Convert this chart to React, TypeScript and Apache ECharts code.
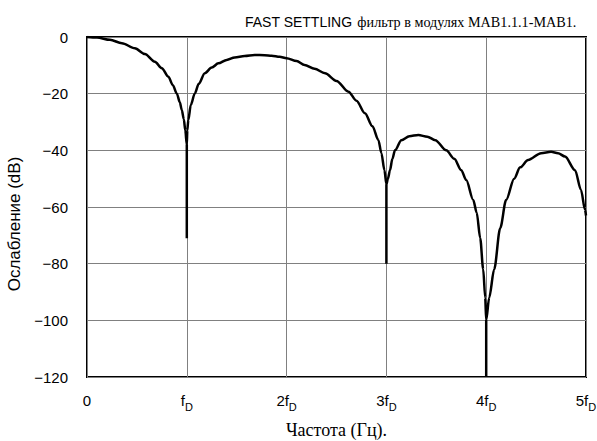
import React, { useEffect, useRef } from "react";
import * as echarts from "echarts";

const titleSans = "FAST SETTLING";
const titleSerif = "фильтр в модулях MAB1.1.1-MAB1.";
const yAxisName = "Ослабление (dB)";
const xAxisName = "Частота (Гц).";
const xTickLabels = ["0", "f", "2f", "3f", "4f", "5f"];
const xSubscript = "D";

const freq = [
  0, 0.1, 0.23, 0.35, 0.48, 0.58, 0.68, 0.75, 0.815, 0.86, 0.9, 0.93, 0.95, 0.97, 0.985, 1.0,
  1.0, 1.0, 1.005, 1.015, 1.04, 1.08, 1.12, 1.18, 1.25, 1.316, 1.4, 1.48, 1.58, 1.68, 1.78,
  1.85, 1.93, 2.0, 2.1, 2.18, 2.28, 2.385, 2.5, 2.62, 2.7, 2.785, 2.86, 2.92, 2.95, 2.98, 3.0,
  3.0, 3.0, 3.015, 3.036, 3.06, 3.086, 3.15, 3.23, 3.32, 3.41, 3.49, 3.6, 3.68, 3.75, 3.8,
  3.87, 3.905, 3.94, 3.97, 3.99, 4.0, 4.0, 4.0, 4.03, 4.08, 4.14, 4.2, 4.28, 4.34, 4.42, 4.55,
  4.65, 4.72, 4.79, 4.89, 4.95, 4.99, 5.0,
];
const atten = [
  0, -0.2, -1.0, -2.2, -4, -6, -8.7, -11, -14, -17, -20, -23, -25.8, -29, -33, -38,
  -71, -38, -33, -29.3, -24, -19.9, -16.5, -12.8, -10.8, -9.3, -8.1, -7.2, -6.7, -6.35, -6.4,
  -6.6, -7.0, -7.5, -8.5, -9.9, -11.2, -12.8, -15.5, -19.3, -22.5, -26.9, -31.5, -36.4, -41, -47, -52,
  -80, -52, -50, -47, -43, -40, -36.4, -35, -34.6, -35.2, -36.4, -40, -43, -47, -50.5,
  -57.5, -62, -71, -82, -92, -100, -120, -100, -92, -82, -67.5, -57.5, -50, -46, -43.4, -41,
  -40.5, -41, -42.2, -47, -54, -61, -63,
];

const yTicks = { min: -120, max: 0, interval: 20 };

export default function App() {
  const ref = useRef<HTMLDivElement>(null);
  useEffect(() => {
    if (!ref.current) return;
    const chart = echarts.init(ref.current, undefined, { renderer: "svg" });
    const data = freq.map((f, i) => [f, atten[i]]);
    chart.setOption({
      animation: false,
      backgroundColor: "#fff",
      title: {
        text: `{a|${titleSans}} {b|${titleSerif}}`,
        left: 240,
        top: 8,
        textStyle: {
          fontWeight: "normal",
          rich: {
            a: { fontFamily: "Liberation Sans", fontSize: 14, fontWeight: "normal", color: "#000" },
            b: { fontFamily: "Liberation Serif", fontSize: 14.2, fontWeight: "normal", color: "#000" },
          },
        },
      },
      grid: {
        left: 87,
        right: 11,
        top: 37,
        bottom: 64,
        show: true,
        borderColor: "#000",
        borderWidth: 2,
        backgroundColor: "transparent",
        outerBoundsMode: "none",
        containLabel: false,
      },
      xAxis: {
        type: "value",
        min: 0,
        max: 5,
        interval: 1,
        name: xAxisName,
        nameLocation: "middle",
        nameGap: 44,
        nameTextStyle: { fontFamily: "Liberation Serif", fontSize: 18, color: "#000" },
        axisLine: { show: false },
        axisTick: { show: false },
        splitLine: { show: true, lineStyle: { color: "#808080", width: 1 } },
        axisLabel: {
          margin: 16,
          formatter: (v: number) => {
            const i = Math.round(v);
            if (i === 0) return "{m|0}";
            return `{m|${xTickLabels[i]}}{s|${xSubscript}}`;
          },
          rich: {
            m: { fontFamily: "Liberation Sans", fontSize: 15, color: "#000", verticalAlign: "bottom" },
            s: {
              fontFamily: "Liberation Sans",
              fontSize: 11,
              color: "#000",
              verticalAlign: "bottom",
              padding: [0, 0, -4, 0],
            },
          },
        },
      },
      yAxis: {
        type: "value",
        min: yTicks.min,
        max: yTicks.max,
        interval: yTicks.interval,
        name: yAxisName,
        nameLocation: "middle",
        nameGap: 60,
        nameRotate: 90,
        nameTextStyle: {
          fontFamily: "Liberation Sans",
          fontSize: 17,
          color: "#000",
          padding: [0, 34, 0, 0],
        },
        axisLine: { show: false },
        axisTick: { show: false },
        splitLine: { show: true, lineStyle: { color: "#808080", width: 1 } },
        axisLabel: {
          margin: 19,
          fontFamily: "Liberation Sans",
          fontSize: 15,
          color: "#000",
          formatter: (v: number) => (v < 0 ? "\u2212" + Math.abs(v) : String(v)),
        },
      },
      series: [
        {
          type: "line",
          data,
          showSymbol: false,
          smooth: 0.3,
          smoothMonotone: "x",
          lineStyle: { color: "#000", width: 2.5 },
          z: 3,
        },
      ],
    });
    return () => chart.dispose();
  }, []);
  return <div ref={ref} style={{ width: 597, height: 441, position: "absolute", left: 0, top: 0 }} />;
}
